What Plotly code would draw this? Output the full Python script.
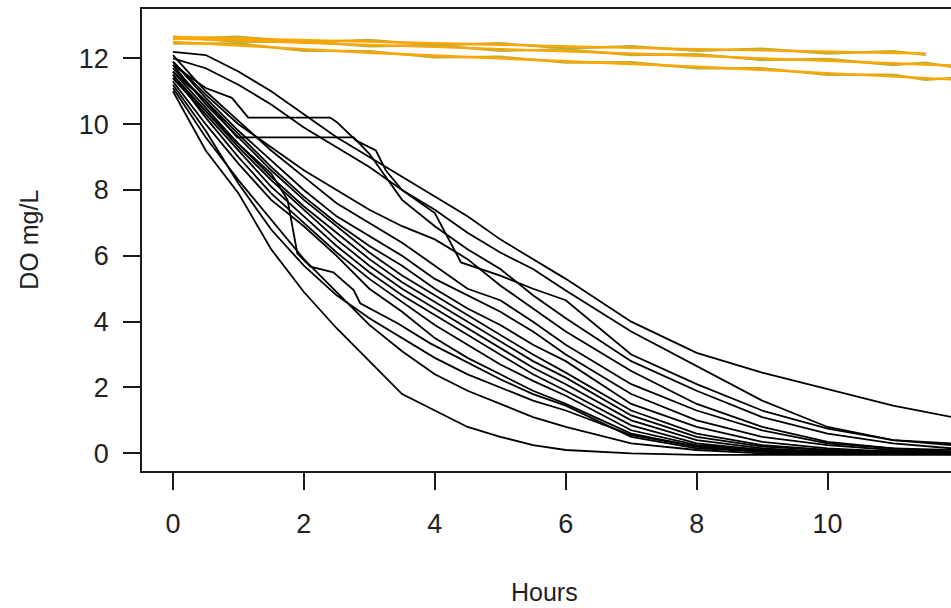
import plotly.graph_objects as go

# Time knots (hours) shared by most trials
hours = [0, 0.5, 1, 1.5, 2, 2.5, 3, 3.5, 4, 4.5, 5, 5.5, 6, 7, 8, 9, 10, 11, 11.9]

# Dissolved oxygen (mg/L) for each black (respiring) trial
do_c1 = [12.2, 12.1, 11.6, 11.0, 10.3, 9.6, 9.0, 8.4, 7.8, 7.2, 6.5, 5.9, 5.3, 4.0, 3.05, 2.45, 1.95, 1.45, 1.1]
do_c2 = [12.0, 11.7, 11.2, 10.6, 9.9, 9.3, 8.7, 8.0, 7.4, 6.7, 6.1, 5.6, 4.95, 3.7, 2.65, 1.6, 0.8, 0.4, 0.3]
do_c5 = [11.9, 10.9, 10.0, 9.3, 8.6, 8.0, 7.4, 6.9, 6.5, 5.9, 5.1, 4.4, 3.7, 2.5, 1.5, 0.8, 0.35, 0.15, 0.1]
do_c6 = [12.1, 11.0, 10.1, 9.2, 8.4, 7.6, 7.0, 6.4, 5.7, 5.0, 4.65, 4.0, 3.3, 2.1, 1.3, 0.7, 0.3, 0.15, 0.05]
do_c7 = [11.9, 10.8, 9.8, 8.9, 8.0, 7.2, 6.6, 6.0, 5.3, 4.8, 4.3, 3.7, 3.0, 1.8, 1.0, 0.5, 0.25, 0.1, 0.05]
do_c8 = [11.7, 10.7, 9.7, 8.7, 7.8, 7.0, 6.3, 5.7, 5.0, 4.4, 3.9, 3.3, 2.8, 1.5, 0.8, 0.35, 0.15, 0.05, 0.0]
do_c9 = [11.8, 10.6, 9.6, 8.6, 7.7, 6.9, 6.1, 5.4, 4.8, 4.2, 3.6, 3.0, 2.45, 1.3, 0.6, 0.25, 0.1, 0.05, 0.0]
do_c10 = [11.6, 10.5, 9.4, 8.4, 7.5, 6.7, 5.9, 5.2, 4.6, 4.0, 3.4, 2.8, 2.3, 1.15, 0.5, 0.2, 0.1, 0.05, 0.0]
do_c11 = [11.5, 10.4, 9.3, 8.3, 7.4, 6.5, 5.7, 5.0, 4.4, 3.8, 3.2, 2.6, 2.1, 1.0, 0.4, 0.15, 0.05, 0.02, 0.0]
do_c12 = [11.4, 10.3, 9.2, 8.1, 7.2, 6.3, 5.5, 4.8, 4.2, 3.6, 3.0, 2.4, 1.9, 0.85, 0.3, 0.1, 0.05, 0.0, 0.0]
do_c13 = [11.5, 10.2, 9.0, 7.9, 7.0, 6.1, 5.3, 4.6, 3.9, 3.3, 2.7, 2.2, 1.75, 0.7, 0.25, 0.1, 0.05, 0.0, 0.0]
do_c14 = [11.3, 10.0, 8.8, 7.7, 6.9, 6.0, 5.0, 4.3, 3.5, 2.9, 2.4, 1.9, 1.5, 0.6, 0.2, 0.05, 0.0, 0.0, 0.0]
do_c16 = [11.2, 9.8, 8.2, 6.8, 5.7, 4.8, 4.1, 3.5, 2.9, 2.4, 2.0, 1.6, 1.3, 0.55, 0.2, 0.05, 0.0, 0.0, 0.0]
do_c17 = [11.1, 9.6, 8.3, 7.1, 5.9, 4.9, 3.9, 3.1, 2.4, 1.9, 1.5, 1.1, 0.8, 0.3, 0.1, 0.0, 0.0, 0.0, 0.0]
do_c18 = [11.0, 9.2, 7.9, 6.2, 4.9, 3.8, 2.8, 1.8, 1.3, 0.8, 0.5, 0.25, 0.1, 0.0, -0.05, -0.05, -0.05, -0.05, -0.05]

# Trials with logging gaps / abrupt drops have their own time knots
hours_c3 = [0, 0.5, 0.9, 1.15, 2.4, 2.5, 2.8, 3.1, 3.25, 3.5, 4, 4.4, 5, 5.5, 6, 7, 8, 9, 10, 11, 11.9]
do_c3 = [11.8, 11.1, 10.8, 10.2, 10.2, 10.07, 9.5, 9.2, 8.6, 8.0, 7.3, 5.8, 5.4, 5.0, 4.65, 3.0, 2.1, 1.3, 0.75, 0.4, 0.25]
hours_c4 = [0, 0.5, 0.98, 2.76, 3.0, 3.5, 4, 4.5, 5, 5.5, 6, 7, 8, 9, 10, 11, 11.9]
do_c4 = [11.6, 10.7, 9.6, 9.6, 9.1, 7.7, 6.9, 6.2, 5.6, 4.8, 4.1, 2.8, 1.9, 1.1, 0.6, 0.3, 0.15]
hours_c15 = [0, 0.5, 1, 1.5, 1.75, 1.9, 2.1, 2.45, 2.76, 2.86, 3.43, 3.93, 4.5, 5, 5.5, 6, 7, 8, 9, 10, 11, 11.9]
do_c15 = [11.4, 10.4, 9.4, 8.5, 7.7, 6.07, 5.67, 5.5, 4.96, 4.56, 3.95, 3.34, 2.75, 2.25, 1.8, 1.45, 0.5, 0.15, 0.05, 0.0, 0.0, 0.0]

black_series = [(hours, do_c1), (hours, do_c2), (hours_c3, do_c3), (hours_c4, do_c4),
                (hours, do_c5), (hours, do_c6), (hours, do_c7), (hours, do_c8),
                (hours, do_c9), (hours, do_c10), (hours, do_c11), (hours, do_c12),
                (hours, do_c13), (hours, do_c14), (hours_c15, do_c15), (hours, do_c16),
                (hours, do_c17), (hours, do_c18)]

# Control (no respiration) trials
ctrl_hours = [0, 1, 2, 3, 4, 5, 6, 7, 8, 9, 10, 11, 11.5, 11.9]
ctrl_a = [12.65, 12.6, 12.55, 12.5, 12.45, 12.4, 12.35, 12.32, 12.28, 12.24, 12.2, 12.17, 12.15, None]
ctrl_b = [12.6, 12.55, 12.47, 12.42, 12.35, 12.28, 12.22, 12.15, 12.08, 12.0, 11.93, 11.85, 11.82, 11.78]
ctrl_c = [12.5, 12.4, 12.28, 12.17, 12.08, 12.0, 11.92, 11.83, 11.75, 11.65, 11.55, 11.45, 11.4, 11.36]
ctrl_a2 = [12.6, 12.66, 12.49, 12.56, 12.4, 12.46, 12.3, 12.37, 12.23, 12.29, 12.15, 12.22, 12.11, None]
ctrl_b2 = [12.66, 12.5, 12.52, 12.37, 12.4, 12.23, 12.27, 12.1, 12.13, 11.95, 11.98, 11.8, 11.87, 11.74]
ctrl_c2 = [12.45, 12.45, 12.23, 12.22, 12.03, 12.05, 11.87, 11.88, 11.7, 11.7, 11.5, 11.5, 11.35, 11.4]

x_ticks = [0, 2, 4, 6, 8, 10]
y_ticks = [0, 2, 4, 6, 8, 10, 12]

fig = go.Figure()

for tx, s in black_series:
    fig.add_trace(go.Scatter(x=tx, y=s, mode="lines",
                             line=dict(color="#000000", width=1.8),
                             showlegend=False, hoverinfo="skip"))

for s in [ctrl_a2, ctrl_b2, ctrl_c2]:
    fig.add_trace(go.Scatter(x=ctrl_hours, y=s, mode="lines",
                             line=dict(color="#B9B03C", width=2.4),
                             showlegend=False, hoverinfo="skip", connectgaps=False))
for s in [ctrl_a, ctrl_b, ctrl_c]:
    fig.add_trace(go.Scatter(x=ctrl_hours, y=s, mode="lines",
                             line=dict(color="#FFA500", width=2.4),
                             showlegend=False, hoverinfo="skip", connectgaps=False))

font_family = "Liberation Sans, Arial, sans-serif"
axis_color = "#1a1a1a"

fig.update_layout(
    width=951, height=608,
    margin=dict(l=141.5, r=0, t=9, b=137),
    paper_bgcolor="white", plot_bgcolor="white",
    font=dict(family=font_family, size=25, color="#222222"),
    showlegend=False,
    xaxis=dict(range=[-0.473, 11.885], tickvals=x_ticks, ticktext=[str(v) for v in x_ticks],
               ticks="outside", ticklen=17, tickwidth=1.5, tickcolor=axis_color,
               showline=True, linecolor=axis_color, linewidth=1.6, mirror=True,
               showgrid=False, zeroline=False, ticklabelstandoff=11,
               tickfont=dict(size=27)),
    yaxis=dict(range=[-0.538, 13.5], tickvals=y_ticks, ticktext=[str(v) for v in y_ticks],
               ticks="outside", ticklen=17, tickwidth=1.5, tickcolor=axis_color,
               showline=True, linecolor=axis_color, linewidth=1.6, mirror=False,
               showgrid=False, zeroline=False, ticklabelstandoff=9,
               tickfont=dict(size=27)),
    annotations=[
        dict(text="Hours", xref="paper", yref="paper", x=0.498, y=-0.262,
             xanchor="center", yanchor="middle", showarrow=False,
             font=dict(size=25, color="#222222")),
        dict(text="DO mg/L", xref="paper", yref="paper", x=-0.140, y=0.5,
             xanchor="center", yanchor="middle", textangle=-90, showarrow=False,
             font=dict(size=25, color="#222222")),
    ],
)

fig.write_html("out.html", config={"displayModeBar": False},
               post_script="document.body.style.margin='0';document.body.style.overflow='hidden';")
